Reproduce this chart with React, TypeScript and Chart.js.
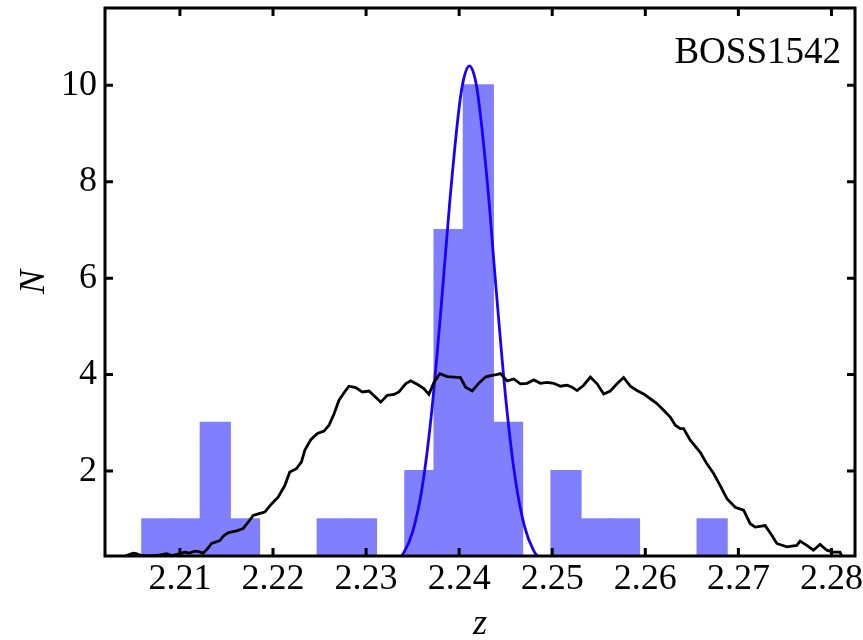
import React, { useEffect, useRef } from 'react';
import { Chart, registerables } from 'chart.js';

Chart.register(...registerables);

// Redshift histogram of members (bin centres and counts)
const binCenters = [
  2.20752, 2.21066, 2.2138, 2.21694, 2.22008, 2.22322, 2.22636, 2.2295, 2.23264, 2.23578,
  2.23892, 2.24206, 2.2452, 2.24834, 2.25148, 2.25462, 2.25776, 2.2609, 2.26404, 2.26718,
];
const binCounts = [1, 1, 3, 1, 0, 0, 1, 1, 0, 2, 7, 10, 3, 0, 2, 1, 1, 0, 0, 1];

// Selection function (scaled), black curve
const selZ = [
  2.2041, 2.20428, 2.2047, 2.20499, 2.2053, 2.20553, 2.206, 2.2066, 2.2073, 2.20804,
  2.20857, 2.20911, 2.2098, 2.21054, 2.211, 2.21161, 2.212, 2.2125, 2.213, 2.2134,
  2.21429, 2.2147, 2.21518, 2.2156, 2.21608, 2.21679, 2.21733, 2.21787, 2.2185, 2.21912,
  2.21984, 2.22055, 2.22127, 2.2218, 2.22252, 2.22306, 2.22341, 2.22406, 2.22477, 2.22548,
  2.22602, 2.22656, 2.22709, 2.2278, 2.22816, 2.22888, 2.2296, 2.23031, 2.23103, 2.23157,
  2.23228, 2.23299, 2.23353, 2.23425, 2.23479, 2.2355, 2.23621, 2.23675, 2.23729, 2.23793,
  2.23872, 2.23943, 2.24015, 2.24069, 2.2414, 2.24211, 2.24283, 2.24337, 2.244, 2.24444,
  2.24516, 2.24587, 2.24659, 2.2473, 2.24802, 2.24873, 2.24945, 2.25016, 2.25088, 2.2516,
  2.25213, 2.25267, 2.25338, 2.2541, 2.25482, 2.25553, 2.25624, 2.25696, 2.25767, 2.25839,
  2.2591, 2.25982, 2.26054, 2.26125, 2.26197, 2.26268, 2.26322, 2.26376, 2.26411, 2.26483,
  2.2659, 2.26662, 2.26734, 2.26805, 2.26877, 2.26966, 2.27056, 2.27127, 2.27181, 2.27288,
  2.27359, 2.27413, 2.27521, 2.27628, 2.27663, 2.27735, 2.27806, 2.27878, 2.2795, 2.28021,
  2.28092, 2.2811,
];
const selN = [
  0.22, 0.25, 0.28, 0.3, 0.29, 0.27, 0.25, 0.24, 0.25, 0.27,
  0.29, 0.25, 0.28, 0.32, 0.3, 0.34, 0.33, 0.3, 0.4, 0.5,
  0.56, 0.66, 0.72, 0.74, 0.76, 0.81, 0.94, 1.08, 1.12, 1.15,
  1.32, 1.46, 1.7, 1.98, 2.05, 2.19, 2.43, 2.65, 2.78, 2.83,
  2.95, 3.19, 3.47, 3.67, 3.76, 3.73, 3.64, 3.66, 3.53, 3.43,
  3.57, 3.59, 3.64, 3.81, 3.87, 3.8, 3.71, 3.59, 3.84, 4.02,
  3.96, 3.95, 3.94, 3.74, 3.66, 3.82, 3.95, 3.98, 4.0, 4.02,
  3.87, 3.91, 3.81, 3.82, 3.89, 3.82, 3.84, 3.82, 3.76, 3.78,
  3.74, 3.67, 3.78, 3.95, 3.81, 3.6, 3.66, 3.81, 3.94, 3.76,
  3.67, 3.6, 3.5, 3.4, 3.26, 3.12, 2.95, 2.88, 2.88, 2.64,
  2.39, 2.15, 1.95, 1.7, 1.43, 1.25, 1.19, 0.91, 0.84, 0.87,
  0.67, 0.5, 0.43, 0.46, 0.55, 0.46, 0.36, 0.48, 0.36, 0.32,
  0.32, 0.25,
];

// Gaussian fit to the peak, blue curve
const fitZ = [
  2.233, 2.234, 2.235, 2.236, 2.237, 2.238, 2.239, 2.24, 2.2405, 2.2411,
  2.2416, 2.242, 2.243, 2.244, 2.245, 2.246, 2.247, 2.248, 2.249,
];
const fitN = [
  0.1, 0.29, 0.74, 1.63, 3.14, 5.25, 7.6, 9.54, 10.14, 10.4,
  10.22, 9.82, 8.04, 5.71, 3.52, 1.88, 0.87, 0.35, 0.12,
];

const xTickValues = [2.21, 2.22, 2.23, 2.24, 2.25, 2.26, 2.27, 2.28];
const yTickValues = [2, 4, 6, 8, 10];
const fieldName = 'BOSS1542';

const SERIF = "'Liberation Serif', 'DejaVu Serif', serif";

const framePlugin = {
  id: 'frameAndTicks',
  afterDatasetsDraw(chart: any) {
    const { ctx, chartArea: a, scales } = chart;
    const len = 8;
    ctx.save();
    ctx.strokeStyle = '#000';
    ctx.lineWidth = 3;
    ctx.lineCap = 'butt';
    ctx.beginPath();
    for (const v of xTickValues) {
      const p = scales.x.getPixelForValue(v);
      ctx.moveTo(p, a.bottom);
      ctx.lineTo(p, a.bottom - len);
      ctx.moveTo(p, a.top);
      ctx.lineTo(p, a.top + len);
    }
    for (const v of yTickValues) {
      const p = scales.y.getPixelForValue(v);
      ctx.moveTo(a.left, p);
      ctx.lineTo(a.left + len, p);
      ctx.moveTo(a.right, p);
      ctx.lineTo(a.right - len, p);
    }
    ctx.stroke();
    ctx.lineWidth = 3;
    ctx.strokeRect(a.left, a.top, a.right - a.left, a.bottom - a.top);

    ctx.fillStyle = '#000';
    ctx.font = `37px ${SERIF}`;
    ctx.textAlign = 'right';
    ctx.textBaseline = 'alphabetic';
    ctx.fillText(fieldName, a.right - 14, a.top + 55);
    ctx.restore();
  },
};

export default function App() {
  const canvasRef = useRef<HTMLCanvasElement | null>(null);

  useEffect(() => {
    document.body.style.margin = '0';
    const canvas = canvasRef.current;
    if (!canvas) return;

    const chart = new Chart(canvas, {
      type: 'bar',
      data: {
        datasets: [
          {
            type: 'line',
            label: 'selection',
            data: selZ.map((z, i) => ({ x: z, y: selN[i] })),
            borderColor: '#000000',
            borderWidth: 2.8,
            pointRadius: 0,
            tension: 0,
            fill: false,
            clip: 0,
            order: 0,
          } as any,
          {
            type: 'line',
            label: 'fit',
            data: fitZ.map((z, i) => ({ x: z, y: fitN[i] })),
            borderColor: '#1a00ff',
            borderWidth: 2.8,
            pointRadius: 0,
            cubicInterpolationMode: 'monotone',
            fill: false,
            clip: 0,
            order: 1,
          } as any,
          {
            type: 'bar',
            label: 'members',
            data: binCenters.map((z, i) => ({ x: z, y: binCounts[i] })),
            backgroundColor: '#8080ff',
            borderWidth: 0,
            inflateAmount: 1,
            barPercentage: 1,
            categoryPercentage: 1,
            clip: 0,
            order: 2,
          } as any,
        ],
      },
      options: {
        animation: false,
        responsive: false,
        maintainAspectRatio: false,
        devicePixelRatio: 1,
        layout: { padding: { left: 0, right: 8, top: 8, bottom: 0 } },
        plugins: {
          legend: { display: false },
          tooltip: { enabled: false },
        },
        scales: {
          x: {
            type: 'linear',
            min: 2.20195,
            max: 2.28253,
            offset: false,
            grid: { display: false, drawTicks: false },
            border: { display: false },
            afterBuildTicks: (s: any) => {
              s.ticks = xTickValues.map((v) => ({ value: v }));
            },
            afterFit: (s: any) => {
              s.height = 84;
              s.paddingLeft = 0;
              s.paddingRight = 0;
            },
            ticks: {
              autoSkip: false,
              maxRotation: 0,
              padding: 2,
              color: '#000',
              font: { family: SERIF, size: 36 },
              callback: (v: any) => Number(v).toFixed(2),
            },
            title: {
              display: true,
              text: 'z',
              color: '#000',
              font: { family: SERIF, size: 36, style: 'italic' },
              padding: { top: 0, bottom: -6 },
            },
          },
          y: {
            type: 'linear',
            min: 0.24,
            max: 11.6,
            grid: { display: false, drawTicks: false },
            border: { display: false },
            afterBuildTicks: (s: any) => {
              s.ticks = yTickValues.map((v) => ({ value: v }));
            },
            afterFit: (s: any) => {
              s.width = 105;
              s.paddingTop = 0;
              s.paddingBottom = 0;
            },
            ticks: {
              padding: 8,
              color: '#000',
              font: { family: SERIF, size: 36 },
              callback: (v: any) => String(v),
            },
            title: {
              display: true,
              text: 'N',
              color: '#000',
              font: { family: SERIF, size: 36, style: 'italic' },
              padding: { top: 13, bottom: 0 },
            },
          },
        },
      },
      plugins: [framePlugin],
    });

    return () => chart.destroy();
  }, []);

  return (
    <canvas
      ref={canvasRef}
      width={863}
      height={640}
      style={{ display: 'block', width: '863px', height: '640px' }}
    />
  );
}
